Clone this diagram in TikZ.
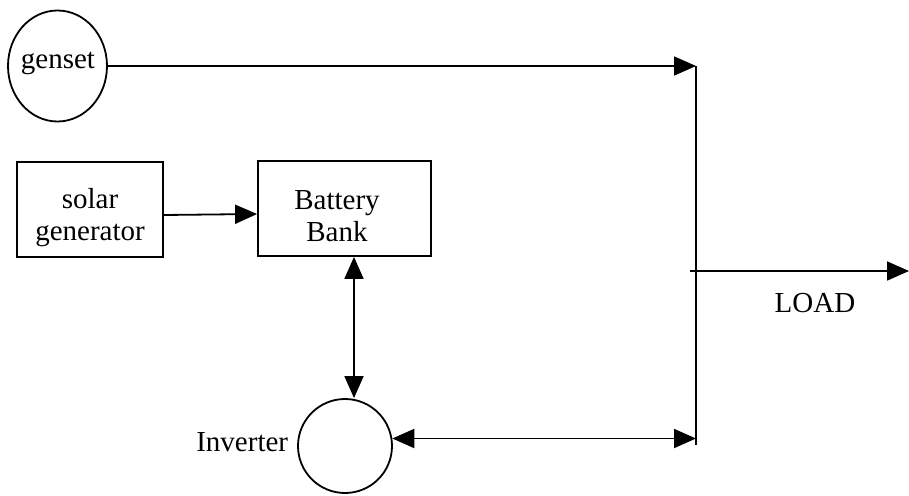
\documentclass[tikz,border=0pt]{standalone}
\usepackage{fontspec}
\setmainfont{Liberation Serif}
\usetikzlibrary{arrows.meta,shapes.geometric}
\begin{document}
\begin{tikzpicture}[x=1pt,y=-1pt,
  line width=1.8pt,
  every node/.style={font=\fontsize{29}{32}\selectfont},
  blockbox/.style={draw,rectangle,inner sep=0pt},
  boxtext/.style={align=center,inner sep=0pt},
  tri/.tip={Triangle[length=22pt,width=19pt]}]
\useasboundingbox (0,0) rectangle (909,495);
\node[draw,ellipse,minimum width=99pt,minimum height=111pt,inner sep=0pt] (genset) at (57.5,66) {};
\node[inner sep=0pt] (gensettext) at (58,63) {genset};
\node[blockbox,minimum width=146pt,minimum height=95pt] (solar) at (90,209.5) {};
\node[boxtext] (solartext) at (90,218) {solar\\generator};
\node[blockbox,minimum width=173pt,minimum height=95pt] (battery) at (344.5,208.5) {};
\node[boxtext] (batterytext) at (337,216) {Battery\\Bank};
\node[draw,circle,minimum size=94pt,inner sep=0pt] (inverter) at (345,446) {};
\node[anchor=east,inner sep=0pt] (invlabel) at (289,442) {Inverter};
\node (load) at (815,303) {LOAD};
\coordinate (bustop) at (696,66);
\coordinate (busbot) at (696,445);
\coordinate (tap) at (690,271);
\coordinate (loadend) at (909,271);
\draw (bustop) -- (busbot);
\draw[-tri] (genset) -- (bustop);
\draw[-tri] ([yshift=-5.5pt]solar.east) -- ([yshift=-5.5pt]battery.west);
\draw[tri-tri] ([xshift=9.5pt]battery.south) -- ([xshift=9.5pt]battery.south |- inverter.north);
\draw[tri-tri] (inverter.9.8) -- (inverter.9.8 -| busbot);
\draw[-tri] (tap) -- (loadend);
\end{tikzpicture}
\end{document}
